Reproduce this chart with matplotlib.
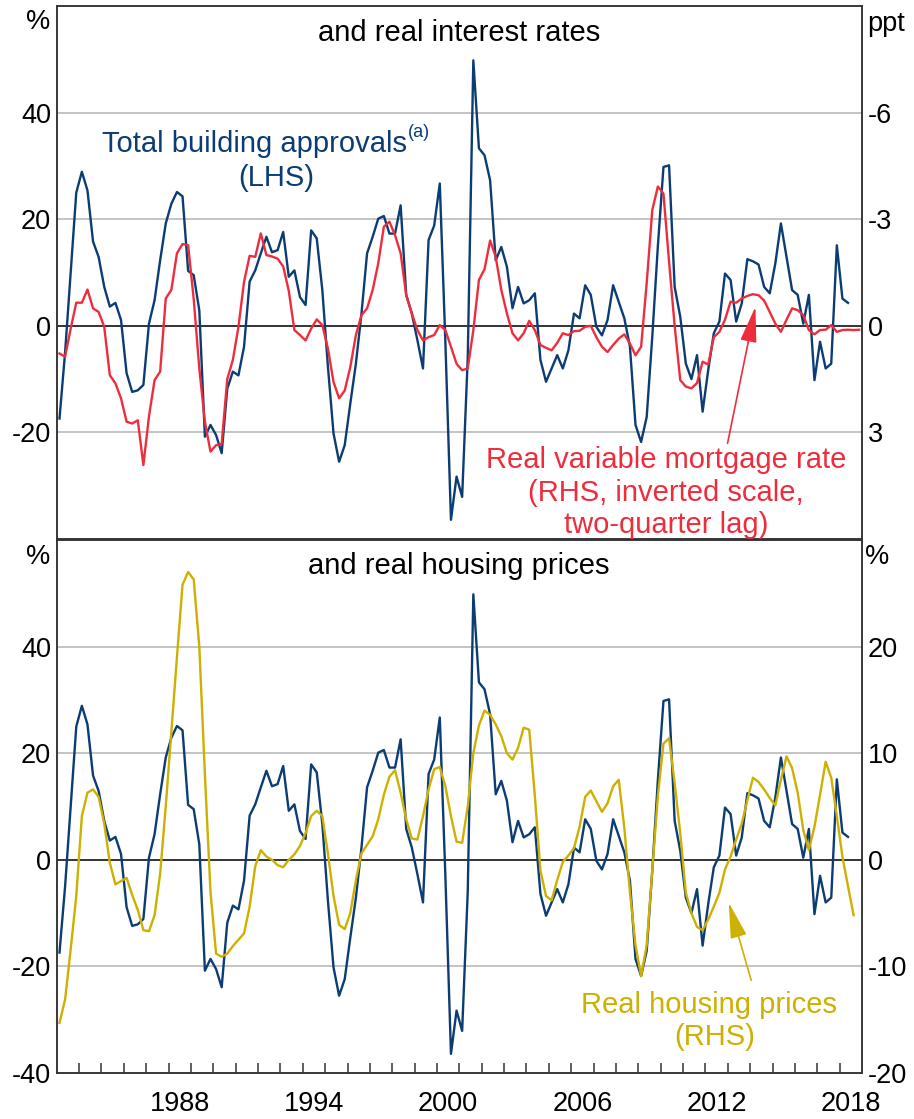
import matplotlib
matplotlib.use('Agg')
import matplotlib.pyplot as plt
import pandas as pd

plt.rcParams['font.family'] = ['Liberation Sans', 'DejaVu Sans']

# Total building approvals, year-ended growth, %, 1983Q1-2018Q2
approvals = [
    -17.4, -5.0, 10.0, 25.0, 28.9, 25.4, 15.8, 12.9, 7.3, 3.6,
    4.3, 1.1, -8.9, -12.4, -12.1, -11.1, 0.4, 4.8, 12.3, 19.2,
    22.9, 25.1, 24.3, 10.3, 9.5, 2.9, -20.8, -18.6, -20.5, -23.9,
    -11.8, -8.6, -9.3, -3.9, 8.3, 10.4, 13.6, 16.7, 13.8, 14.2,
    17.6, 9.2, 10.4, 5.4, 3.9, 17.9, 16.4, 6.7, -7.7, -20.2,
    -25.5, -22.4, -14.6, -7.1, 2.3, 13.6, 16.7, 20.1, 20.6, 17.3,
    17.3, 22.6, 5.8, 2.3, -2.7, -8.0, 16.1, 18.8, 26.7, -3.0,
    -36.4, -28.3, -32.1, -6.0, 49.8, 33.3, 32.0, 27.3, 12.3, 14.8,
    11.1, 3.3, 7.3, 4.2, 4.8, 6.1, -6.4, -10.5, -8.0, -5.5,
    -8.0, -4.6, 2.3, 1.4, 7.6, 5.8, -0.2, -1.8, 1.1, 7.6,
    4.5, 1.4, -3.9, -18.6, -21.8, -17.1, -2.0, 15.0, 29.8, 30.1,
    7.3, 1.7, -7.1, -10.0, -5.5, -16.1, -8.3, -1.4, 0.8, 9.8,
    8.6, 0.8, 4.2, 12.5, 12.1, 11.5, 7.3, 6.1, 11.7, 19.2,
    12.9, 6.7, 5.8, 0.4, 5.8, -10.2, -3.0, -8.0, -7.1, 15.1,
    5.1, 4.3,
]

# Real variable mortgage rate, ppt deviation, lagged two quarters, 1983Q1-2018Q4
mortgage = [
    0.78, 0.87, 0.08, -0.65, -0.65, -1.02, -0.49, -0.39, 0.03, 1.39,
    1.62, 2.04, 2.70, 2.75, 2.66, 3.92, 2.55, 1.53, 1.29, -0.77,
    -1.01, -2.04, -2.30, -2.27, -0.75, 1.20, 2.70, 3.54, 3.36, 3.32,
    1.50, 0.96, 0.03, -1.24, -1.97, -1.94, -2.60, -1.99, -1.95, -1.89,
    -1.67, -0.98, 0.12, 0.26, 0.41, 0.08, -0.18, -0.02, 0.64, 1.58,
    2.04, 1.82, 1.16, 0.26, -0.30, -0.49, -1.01, -1.76, -2.79, -2.93,
    -2.55, -2.04, -0.86, -0.35, 0.12, 0.41, 0.32, 0.26, -0.02, 0.12,
    0.59, 1.07, 1.25, 1.20, 0.12, -1.29, -1.59, -2.40, -1.94, -1.01,
    -0.35, 0.21, 0.41, 0.21, -0.14, 0.12, 0.54, 0.62, 0.69, 0.48,
    0.21, 0.26, 0.15, 0.14, 0.03, 0.00, 0.32, 0.59, 0.74, 0.54,
    0.36, 0.24, 0.50, 0.83, 0.59, -1.20, -3.26, -3.92, -3.72, -1.80,
    0.00, 1.53, 1.71, 1.76, 1.61, 1.01, 1.09, 0.32, 0.17, -0.17,
    -0.68, -0.65, -0.77, -0.84, -0.89, -0.86, -0.71, -0.39, -0.06, 0.17,
    -0.17, -0.49, -0.44, -0.30, 0.12, 0.24, 0.12, 0.11, -0.02, 0.17,
    0.12, 0.11, 0.12, 0.11,
]

# Real housing prices, year-ended growth, %, 1983Q1-2018Q3
housing = [
    -15.3, -13.1, -8.4, -3.4, 4.1, 6.3, 6.6, 5.9, 3.4, -0.3,
    -2.3, -2.0, -1.7, -3.3, -4.7, -6.6, -6.7, -5.2, -1.3, 5.0,
    12.0, 19.0, 25.8, 27.0, 26.3, 20.0, 8.0, -3.0, -8.8, -9.1,
    -8.8, -8.1, -7.5, -6.9, -4.4, -0.6, 0.9, 0.3, 0.0, -0.5,
    -0.7, 0.0, 0.5, 1.3, 2.5, 4.1, 4.6, 4.1, 0.6, -3.4,
    -6.1, -6.5, -5.0, -1.9, 0.6, 1.4, 2.2, 3.8, 6.1, 7.8,
    8.4, 6.3, 3.8, 2.0, 1.9, 4.1, 6.6, 8.5, 8.7, 6.9,
    4.1, 1.7, 1.6, 5.0, 10.0, 12.6, 14.0, 13.6, 12.7, 11.6,
    10.0, 9.4, 10.5, 12.4, 12.2, 6.0, -1.0, -3.4, -3.8, -1.9,
    -0.2, 0.4, 1.1, 3.1, 5.9, 6.5, 5.5, 4.5, 5.3, 6.9,
    7.5, 3.0, -3.0, -8.0, -10.9, -8.0, -1.0, 6.0, 10.9, 11.4,
    7.2, 2.5, -3.1, -5.0, -6.3, -6.6, -5.6, -4.4, -3.1, -0.9,
    0.3, 1.9, 3.4, 5.6, 7.7, 7.3, 6.6, 5.8, 5.1, 7.5,
    9.7, 8.6, 6.3, 2.8, 0.9, 3.1, 6.1, 9.2, 7.7, 4.1,
    0.3, -2.5, -5.2,
]

year_labels = [1988, 1994, 2000, 2006, 2012, 2018]

BLUE = '#0B3C74'
RED = '#EE2D3C'
GOLD = '#CDB000'
W, H = 914, 1119
FS = 19.5


def qx(n):
    q = pd.period_range('1983Q1', periods=n, freq='Q')
    return q.year + (q.quarter - 0.5) / 4


def fx(px):
    return px / W


def fy(py):
    return 1 - py / H


def style_spines(ax):
    for s in ax.spines.values():
        s.set_linewidth(1.1)
        s.set_color('#333333')


fig = plt.figure(figsize=(W / 100, H / 100), dpi=100)
left, width = fx(56.7), (862 - 56.7) / W
ax1 = fig.add_axes([left, fy(539), width, 533 / H])
ax2 = fig.add_axes([left, fy(1073), width, 533 / H])

for ax, lticks in ((ax1, [-20, 0, 20, 40]), (ax2, [-40, -20, 0, 20, 40])):
    ax.set_xlim(1983, 2019)
    ax.set_ylim(-40, 60)
    ax.set_yticks(lticks)
    ax.set_yticklabels([str(t) for t in lticks])
    for t in (-20, 20, 40):
        ax.axhline(t, color='#b4b4b4', lw=1.1, zorder=0)
    ax.axhline(0, color='#333333', lw=1.4, zorder=1)
    ax.tick_params(axis='y', length=0, pad=4, labelsize=FS)
    style_spines(ax)

ax1.set_xticks([])
ax2.set_xticks(range(1984, 2019))
ax2.set_xticklabels([])
ax2.set_xticks([y + 0.5 for y in year_labels], minor=True)
ax2.set_xticklabels([str(y) for y in year_labels], minor=True)
ax2.tick_params(axis='x', which='major', direction='in', length=7, width=1.1, color='#333333')
ax2.tick_params(axis='x', which='minor', length=0, pad=13, labelsize=FS)

# top panel
ax1.plot(qx(len(approvals)), approvals, color=BLUE, lw=1.7, zorder=3)
ax1r = ax1.twinx()
ax1r.set_ylim(6, -9)
ax1r.set_yticks([3, 0, -3, -6])
ax1r.set_yticklabels(['3', '0', '-3', '-6'])
ax1r.tick_params(axis='y', length=0, pad=4, labelsize=FS)
ax1r.plot(qx(len(mortgage)), mortgage, color=RED, lw=1.7, zorder=4)
style_spines(ax1r)

# bottom panel
ax2.plot(qx(len(approvals)), approvals, color=BLUE, lw=1.7, zorder=3)
ax2r = ax2.twinx()
ax2r.set_ylim(-20, 30)
ax2r.set_yticks([-20, -10, 0, 10, 20])
ax2r.set_yticklabels(['-20', '-10', '0', '10', '20'])
ax2r.tick_params(axis='y', length=0, pad=4, labelsize=FS)
ax2r.plot(qx(len(housing)), housing, color=GOLD, lw=1.7, zorder=4)
style_spines(ax2r)

# unit labels and titles
fig.text(fx(38), fy(22), '%', ha='center', va='center', fontsize=FS)
fig.text(fx(867), fy(31), 'ppt', ha='left', va='baseline', fontsize=FS)
fig.text(fx(38), fy(557), '%', ha='center', va='center', fontsize=FS)
fig.text(fx(877), fy(557), '%', ha='center', va='center', fontsize=FS)
fig.text(fx(459), fy(41), 'and real interest rates', ha='center', va='baseline', fontsize=21)
fig.text(fx(459), fy(574), 'and real housing prices', ha='center', va='baseline', fontsize=21)

# series labels
fig.text(fx(407), fy(152), 'Total building approvals', ha='right', va='baseline', fontsize=21, color=BLUE)
fig.text(fx(408), fy(137), '(a)', ha='left', va='baseline', fontsize=13, color=BLUE)
fig.text(fx(276), fy(186), '(LHS)', ha='center', va='baseline', fontsize=21, color=BLUE)

for txt, yb in (('Real variable mortgage rate', 468),
                ('(RHS, inverted scale,', 501),
                ('two-quarter lag)', 533)):
    fig.text(fx(666), fy(yb), txt, ha='center', va='baseline', fontsize=21, color=RED)

fig.text(fx(709), fy(1013), 'Real housing prices', ha='center', va='baseline', fontsize=21, color=GOLD)
fig.text(fx(715), fy(1045), '(RHS)', ha='center', va='baseline', fontsize=21, color=GOLD)

arrow_style = '-|>,head_length=1.3,head_width=0.3'
fig.add_artist(matplotlib.patches.FancyArrowPatch(
    (fx(727), fy(446)), (fx(756), fy(304)), transform=fig.transFigure,
    arrowstyle=arrow_style, mutation_scale=17, color=RED, lw=1.2))
fig.add_artist(matplotlib.patches.FancyArrowPatch(
    (fx(752), fy(983)), (fx(728), fy(900)), transform=fig.transFigure,
    arrowstyle=arrow_style, mutation_scale=17, color=GOLD, lw=1.2))

fig.savefig('out.png', dpi=100)
